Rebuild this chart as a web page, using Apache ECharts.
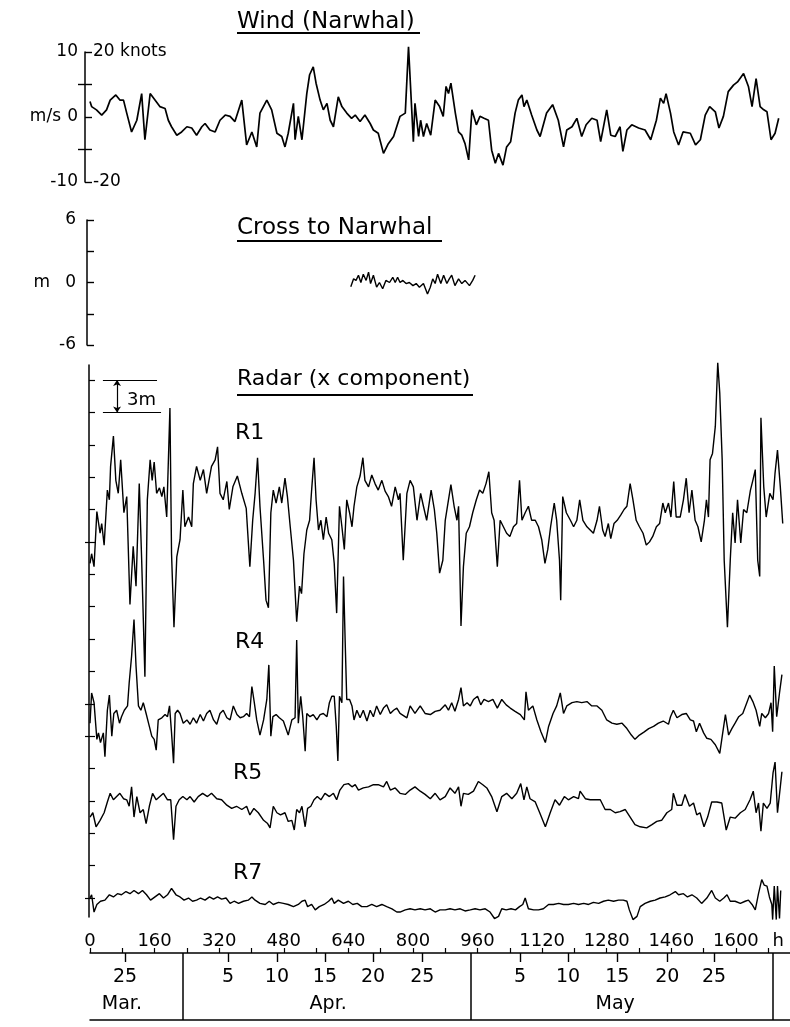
<!DOCTYPE html>
<html><head><meta charset="utf-8">
<script src="https://cdn.jsdelivr.net/npm/echarts@6/dist/echarts.min.js"></script>
<style>html,body{margin:0;padding:0;background:#fff}#c{width:790px;height:1027px}</style>
</head><body><div id="c"></div>
<script>
// ---- data: [hour, value] ----
const WIND = [[0,2.4],[4,1.6],[16,1.1],[29,0.3],[41,1.1],[50,2.6],[64,3.4],[74,2.6],[83,2.6],[91,0.6],[103,-2.3],[116,-0.5],[128,3.6],[136,-3.5],[149,3.6],[161,2.6],[173,1.6],[186,1.3],[194,-0.5],[202,-1.5],[215,-2.8],[227,-2.3],[240,-1.5],[252,-1.7],[264,-2.8],[277,-1.5],[285,-1.0],[297,-2.0],[310,-2.3],[322,-0.5],[335,0.3],[347,0.1],[359,-0.7],[376,2.6],[388,-4.3],[401,-2.3],[413,-4.6],[421,0.6],[438,2.6],[450,1.1],[463,-2.5],[475,-3.0],[483,-4.6],[491,-2.5],[504,2.1],[508,-3.5],[516,0.1],[525,-3.5],[537,3.6],[544,6.5],[553,7.7],[560,5.2],[570,2.6],[578,1.1],[587,2.1],[595,-0.5],[603,-1.5],[615,3.1],[624,1.6],[636,0.6],[648,-0.2],[657,0.3],[669,-0.7],[681,0.3],[694,-1.0],[702,-2.0],[714,-2.5],[727,-5.6],[739,-4.1],[752,-3.0],[768,0.1],[781,0.6],[789,10.8],[801,-3.8],[805,2.1],[814,-3.0],[819,-0.5],[826,-3.0],[834,-1.0],[844,-2.8],[855,2.6],[866,1.6],[875,0.1],[882,4.7],[888,3.6],[894,5.2],[905,0.6],[913,-2.3],[921,-2.8],[929,-4.1],[938,-6.6],[946,1.1],[957,-1.2],[966,0.1],[976,-0.2],[987,-0.5],[995,-5.1],[1004,-7.1],[1012,-5.6],[1023,-7.4],[1032,-4.6],[1042,-3.8],[1053,0.6],[1061,2.6],[1070,3.4],[1075,1.6],[1082,2.6],[1094,0.3],[1107,-2.0],[1115,-3.0],[1131,0.6],[1146,1.9],[1160,-0.5],[1173,-4.6],[1181,-2.0],[1194,-1.5],[1206,-0.2],[1218,-3.0],[1229,-1.2],[1243,-0.2],[1256,-0.5],[1265,-3.8],[1280,1.1],[1290,-2.8],[1301,-3.0],[1313,-1.5],[1320,-5.3],[1330,-2.0],[1342,-1.2],[1359,-1.7],[1375,-2.0],[1389,-3.5],[1403,-0.5],[1413,2.9],[1421,2.1],[1427,3.6],[1438,0.6],[1446,-2.3],[1458,-4.3],[1469,-2.3],[1487,-2.5],[1500,-4.3],[1512,-3.5],[1524,0.3],[1535,1.6],[1549,0.8],[1558,-1.7],[1569,0.1],[1581,3.9],[1594,4.9],[1604,5.4],[1619,6.7],[1631,4.7],[1640,1.6],[1650,5.9],[1660,1.6],[1669,1.1],[1677,0.8],[1687,-3.5],[1697,-2.5],[1706,-0.2]];

const CROSS = [[646,-0.4],[653,0.35],[659,0.2],[665,0.7],[671,0.0],[677,0.8],[684,0.2],[690,1.0],[695,-0.1],[702,0.7],[710,-0.45],[717,0.0],[725,-0.6],[733,0.2],[742,0.0],[750,0.5],[756,0.0],[762,0.5],[768,0.0],[775,0.2],[783,-0.1],[791,0.0],[800,-0.3],[808,-0.1],[816,-0.45],[826,-0.1],[836,-1.1],[843,-0.45],[849,0.35],[855,-0.1],[861,0.8],[869,-0.1],[876,0.7],[884,-0.1],[890,0.35],[896,0.7],[904,-0.3],[913,0.35],[921,-0.1],[929,0.2],[940,-0.3],[948,0.2],[954,0.7]];

const R1 = [[0,-2.0],[4,-1.1],[10,-2.3],[17,2.8],[25,0.8],[29,1.7],[35,-0.3],[43,4.8],[48,3.9],[51,7.0],[58,9.8],[64,5.7],[70,4.5],[76,7.6],[84,2.7],[91,4.2],[99,-5.8],[107,-0.4],[114,-4.1],[122,5.4],[128,-1.7],[136,-12.5],[142,3.9],[149,7.6],[154,5.7],[159,7.4],[165,4.5],[172,5.0],[178,4.2],[183,5.1],[190,2.3],[198,12.4],[202,-1.1],[208,-7.9],[215,-1.4],[223,0.2],[230,4.8],[235,1.4],[244,2.3],[252,1.4],[256,5.4],[264,7.0],[273,5.7],[281,6.7],[289,4.5],[301,7.0],[310,7.6],[316,8.8],[322,4.5],[330,3.9],[339,5.6],[345,3.0],[354,5.1],[365,6.1],[376,4.5],[387,3.1],[396,-2.3],[403,2.0],[409,4.5],[415,7.8],[421,3.3],[430,-1.7],[436,-5.4],[442,-6.1],[448,2.7],[454,4.8],[461,3.6],[469,5.1],[475,3.6],[483,5.9],[489,4.2],[496,1.4],[504,-1.7],[512,-7.4],[519,-4.1],[524,-4.8],[530,-1.1],[537,1.1],[544,2.0],[549,4.8],[555,7.8],[560,3.9],[566,1.1],[572,2.0],[578,0.2],[585,2.3],[591,0.8],[599,0.2],[605,-2.0],[611,-6.6],[618,3.3],[624,1.4],[630,-0.7],[636,3.9],[643,2.7],[649,1.4],[654,3.3],[661,5.1],[669,6.1],[676,7.8],[681,5.7],[690,5.1],[698,6.2],[706,5.4],[714,4.8],[723,5.7],[731,4.7],[739,4.2],[747,3.3],[756,5.1],[764,3.9],[768,4.5],[776,-1.7],[785,4.5],[793,5.7],[801,5.1],[810,2.0],[819,4.5],[826,3.3],[834,2.0],[845,4.8],[853,3.0],[859,0.8],[866,-2.9],[874,-1.7],[880,2.0],[888,3.9],[894,5.3],[902,3.3],[909,2.0],[913,3.3],[919,-7.8],[925,-2.3],[932,0.8],[940,1.4],[948,2.7],[957,3.9],[965,4.8],[973,4.5],[981,5.4],[988,6.5],[995,2.7],[1001,2.0],[1009,-2.3],[1016,2.0],[1024,1.4],[1032,0.8],[1040,0.5],[1049,1.4],[1057,1.7],[1064,5.7],[1070,2.0],[1078,2.7],[1086,3.3],[1094,2.0],[1103,2.0],[1111,1.4],[1119,0.2],[1127,-2.0],[1134,-0.7],[1141,1.4],[1150,3.6],[1156,2.0],[1163,-1.7],[1166,-5.4],[1171,4.2],[1180,2.7],[1190,2.0],[1198,1.4],[1206,2.0],[1213,3.9],[1221,2.0],[1231,1.4],[1239,1.1],[1247,0.8],[1256,2.0],[1262,3.3],[1270,1.1],[1276,0.5],[1284,1.7],[1290,0.3],[1298,1.7],[1306,2.0],[1315,2.5],[1323,3.0],[1330,3.3],[1338,5.4],[1345,3.9],[1353,2.0],[1361,1.4],[1370,0.8],[1378,-0.3],[1386,0.0],[1394,0.5],[1403,1.4],[1411,1.7],[1419,3.6],[1425,2.7],[1433,3.6],[1439,2.3],[1446,5.6],[1452,2.3],[1462,2.3],[1470,3.9],[1477,5.9],[1484,2.7],[1491,4.8],[1499,2.0],[1506,1.4],[1514,0.0],[1522,2.0],[1527,3.9],[1532,2.3],[1536,7.6],[1542,8.2],[1549,10.7],[1555,16.6],[1560,13.8],[1566,7.6],[1571,-1.7],[1579,-7.9],[1586,-1.7],[1592,2.7],[1598,-0.1],[1604,3.9],[1612,-0.1],[1619,3.0],[1627,2.7],[1636,4.8],[1642,5.7],[1648,6.7],[1654,-1.7],[1659,-3.2],[1662,11.5],[1669,5.1],[1675,2.3],[1684,4.5],[1692,3.9],[1697,6.4],[1703,8.5],[1710,5.1],[1716,1.7]];

const R4 = [[0,-1.8],[4,1.0],[10,0.1],[17,-3.3],[21,-2.7],[26,-3.6],[33,-2.7],[37,-4.9],[43,-0.6],[48,0.8],[54,-3.0],[59,-0.9],[66,-0.6],[73,-1.8],[78,-1.2],[85,-0.6],[93,-0.2],[97,1.9],[103,4.4],[109,7.8],[114,3.5],[120,-0.2],[126,-0.6],[132,0.1],[139,-0.9],[147,-2.1],[153,-3.0],[159,-3.3],[164,-4.3],[169,-1.5],[178,-1.3],[186,-1.0],[192,-1.2],[197,-0.2],[202,-2.7],[207,-5.5],[211,-0.9],[217,-0.6],[223,-0.9],[231,-1.8],[240,-1.5],[248,-1.9],[256,-1.3],[264,-1.8],[273,-1.0],[281,-1.6],[289,-0.9],[297,-0.6],[306,-1.5],[314,-1.9],[322,-0.9],[330,-0.6],[339,-1.3],[347,-1.5],[355,-0.2],[364,-1.0],[372,-1.3],[380,-1.2],[388,-0.9],[395,-1.2],[401,1.6],[407,0.1],[413,-1.5],[421,-2.9],[430,-1.5],[438,0.4],[443,3.6],[448,-3.0],[453,-1.2],[461,-1.0],[469,-1.3],[479,-1.6],[491,-2.9],[500,-1.5],[508,-1.3],[512,5.9],[516,-1.8],[522,0.7],[527,-1.2],[533,-4.4],[537,-0.9],[545,-1.2],[553,-1.0],[562,-1.5],[570,-1.0],[578,-0.9],[587,-1.2],[593,0.1],[599,0.7],[605,0.7],[610,-2.1],[614,-5.3],[618,0.7],[624,0.1],[628,11.8],[632,5.9],[636,0.4],[643,0.4],[649,-0.2],[654,-1.5],[661,-0.6],[669,-1.3],[677,-0.6],[686,-1.6],[694,-0.6],[702,-1.2],[710,-0.2],[719,-1.0],[727,-0.4],[735,-0.1],[744,-0.9],[752,-0.6],[760,-0.4],[768,-0.9],[785,-1.3],[793,-0.2],[805,-0.9],[818,-0.2],[830,-0.9],[843,-1.0],[855,-0.7],[867,-0.6],[880,-0.1],[888,-0.6],[896,0.1],[904,-0.7],[913,0.4],[919,1.5],[925,-0.2],[934,0.1],[942,-0.2],[950,0.4],[960,0.7],[968,-0.1],[976,0.4],[987,0.2],[998,0.4],[1009,-0.4],[1020,0.4],[1031,-0.1],[1041,-0.4],[1053,-0.7],[1066,-1.0],[1076,-1.5],[1080,1.1],[1086,-0.6],[1097,-0.2],[1107,-1.5],[1117,-2.6],[1128,-3.6],[1136,-2.1],[1147,-0.9],[1156,-0.2],[1165,1.0],[1173,-0.9],[1181,-0.2],[1194,0.1],[1206,0.2],[1218,0.1],[1231,0.2],[1243,-0.2],[1256,-0.2],[1268,-0.6],[1280,-1.5],[1293,-1.8],[1305,-1.9],[1318,-1.8],[1330,-2.3],[1341,-2.9],[1350,-3.3],[1361,-2.9],[1373,-2.6],[1384,-2.3],[1396,-2.1],[1408,-1.8],[1420,-1.6],[1433,-1.9],[1438,-1.2],[1445,-0.6],[1454,-1.3],[1466,-1.0],[1477,-0.9],[1487,-1.5],[1495,-1.6],[1502,-2.6],[1510,-1.8],[1520,-2.7],[1528,-3.2],[1538,-3.3],[1549,-3.8],[1560,-4.6],[1565,-3.3],[1574,-1.0],[1582,-2.9],[1590,-2.3],[1598,-1.8],[1607,-1.2],[1617,-0.9],[1627,0.1],[1634,0.8],[1642,0.2],[1650,-0.6],[1659,-2.1],[1664,-0.9],[1673,-1.3],[1681,-0.9],[1687,0.1],[1691,-2.6],[1695,3.5],[1701,-1.2],[1708,1.0],[1714,2.7]];

const R5 = [[0,-1.5],[7,-1.1],[15,-2.4],[25,-1.8],[35,-1.1],[43,-0.1],[50,0.7],[58,0.1],[66,0.4],[74,0.7],[83,0.2],[91,0.1],[97,-0.5],[103,1.3],[109,-1.5],[116,0.4],[124,-1.1],[132,-0.8],[139,-2.1],[147,-0.5],[155,0.7],[164,0.1],[173,0.4],[182,0.7],[192,0.1],[200,0.1],[207,-3.6],[213,-0.5],[221,0.1],[230,0.4],[240,0.1],[248,0.4],[258,-0.1],[268,0.4],[279,0.7],[291,0.4],[301,0.7],[314,0.2],[326,0.1],[339,-0.4],[351,-0.7],[363,-0.5],[376,-0.8],[388,-0.5],[396,-1.3],[406,-0.7],[417,-1.1],[430,-1.8],[440,-2.1],[446,-2.5],[454,-0.5],[463,-1.1],[472,-1.3],[483,-1.1],[491,-1.9],[500,-1.8],[506,-2.7],[512,-0.8],[519,-1.1],[525,-0.5],[533,-2.4],[539,-0.7],[547,-0.5],[555,0.1],[563,0.4],[572,0.1],[582,0.7],[593,0.4],[603,0.7],[611,0.1],[619,1.0],[629,1.5],[640,1.6],[649,1.3],[657,1.5],[665,1.0],[677,1.2],[690,1.3],[702,1.5],[714,1.5],[727,1.3],[735,1.8],[744,1.0],[756,1.2],[768,0.7],[781,0.6],[793,1.0],[805,1.3],[818,0.9],[830,0.6],[843,0.2],[855,0.7],[867,0.1],[880,0.4],[892,1.2],[904,0.7],[913,1.3],[919,-0.5],[925,0.7],[937,0.6],[950,0.9],[962,1.8],[973,1.5],[983,1.2],[995,0.4],[1008,-1.0],[1020,0.4],[1032,0.7],[1045,0.2],[1057,0.7],[1067,1.6],[1075,0.1],[1082,1.3],[1090,0.2],[1103,-0.1],[1113,-1.0],[1128,-2.4],[1140,-1.1],[1152,0.1],[1163,-0.4],[1175,0.4],[1185,0.1],[1198,0.4],[1210,0.2],[1214,0.9],[1227,0.2],[1239,0.1],[1251,0.1],[1264,0.1],[1276,-0.8],[1289,-0.8],[1301,-1.1],[1313,-1.0],[1326,-0.8],[1338,-1.5],[1350,-2.2],[1363,-2.4],[1379,-2.5],[1392,-2.2],[1404,-1.9],[1416,-1.8],[1429,-1.1],[1441,-0.8],[1445,0.7],[1454,-0.4],[1466,-0.4],[1474,0.6],[1485,-0.5],[1495,-0.2],[1503,-1.3],[1511,-1.1],[1521,-2.4],[1530,-1.5],[1540,-0.1],[1553,-0.1],[1565,-0.2],[1576,-2.7],[1586,-1.5],[1598,-1.6],[1611,-1.1],[1623,-0.8],[1635,0.1],[1643,0.9],[1650,-1.1],[1656,-0.2],[1662,-2.8],[1668,-0.2],[1677,-0.7],[1685,-0.2],[1692,2.6],[1697,3.6],[1703,-1.1],[1710,1.3],[1714,2.7]];

const R7 = [[0,0],[4,0.3],[10,-1.3],[17,-0.6],[26,-0.3],[37,-0.2],[48,0.3],[58,0.1],[68,0.4],[78,0.3],[89,0.6],[99,0.4],[109,0.7],[120,0.4],[130,0.7],[140,0.3],[150,-0.2],[161,0.1],[172,0.4],[182,0.0],[192,0.3],[202,0.9],[213,0.3],[223,0.1],[233,-0.2],[244,0.0],[254,-0.3],[264,-0.2],[274,0.0],[285,-0.2],[296,0.1],[306,-0.1],[316,0.1],[326,-0.1],[337,0.0],[347,-0.5],[357,-0.3],[368,-0.5],[380,-0.3],[392,-0.2],[401,0.1],[409,-0.2],[421,-0.5],[434,-0.6],[444,-0.3],[454,-0.6],[467,-0.4],[479,-0.5],[491,-0.6],[504,-0.8],[516,-0.6],[525,-0.3],[533,-0.2],[539,-0.8],[549,-0.6],[558,-1.1],[568,-0.8],[580,-0.6],[591,-0.3],[599,0.0],[605,-0.5],[615,-0.2],[628,-0.5],[640,-0.3],[651,-0.6],[662,-0.5],[673,-0.8],[686,-0.8],[698,-0.6],[710,-0.8],[723,-0.6],[735,-0.8],[748,-1.0],[760,-1.3],[768,-1.3],[781,-1.1],[793,-1.0],[805,-1.1],[818,-1.0],[830,-1.1],[843,-1.0],[855,-1.3],[867,-1.1],[880,-1.1],[892,-1.0],[904,-1.1],[917,-1.0],[929,-1.2],[942,-1.1],[954,-1.0],[966,-1.1],[979,-1.0],[991,-1.3],[1002,-1.9],[1012,-1.7],[1020,-1.0],[1031,-1.1],[1043,-1.0],[1054,-1.1],[1064,-0.8],[1072,-0.6],[1078,0.0],[1086,-1.0],[1099,-1.1],[1111,-1.1],[1123,-1.0],[1136,-0.6],[1148,-0.6],[1161,-0.5],[1173,-0.6],[1185,-0.6],[1198,-0.5],[1210,-0.6],[1223,-0.5],[1235,-0.6],[1247,-0.4],[1260,-0.5],[1272,-0.3],[1284,-0.2],[1297,-0.3],[1309,-0.2],[1321,-0.2],[1330,-0.3],[1336,-1.1],[1345,-2.0],[1355,-1.7],[1363,-0.8],[1375,-0.5],[1388,-0.3],[1400,-0.2],[1412,0.0],[1425,0.1],[1437,0.3],[1450,0.6],[1458,0.3],[1470,0.4],[1480,0.1],[1491,0.3],[1503,0.0],[1515,-0.5],[1528,0.0],[1540,0.7],[1549,0.0],[1560,-0.3],[1570,0.0],[1578,0.3],[1586,-0.3],[1598,-0.3],[1611,-0.5],[1623,-0.3],[1631,-0.2],[1640,-0.6],[1648,-1.1],[1656,0.4],[1664,1.7],[1670,1.2],[1677,1.1],[1683,0.1],[1689,-0.6],[1691,-2.0],[1695,1.1],[1700,-2.0],[1703,1.1],[1708,-1.9],[1711,0.7]];

// vertical offsets (m) of the stacked radar traces
const RADAR_NAMES = ['R1','R4','R5','R7'];
const RADAR_OFFSETS = [33, 18, 9, 0];

// ---- axes / tick labels ----
const HOUR_TICKS = [0,80,160,240,320,400,480,560,640,720,800,880,960,1040,1120,1200,1280,1360,1440,1520,1600,1680];
const HOUR_LABEL_VALUES = [0,160,320,480,640,800,960,1120,1280,1440,1600,1705];
const HOUR_LABELS = ['0','160','320','480','640','800','960','1120','1280','1460','1600','h'];
const DATE_HOURS = [87,342,463,582,701,823,1065,1184,1306,1430,1546];
const DATE_LABELS = ['25','5','10','15','20','25','5','10','15','20','25'];
const MONTH_HOURS = [79,590,1301];
const MONTH_LABELS = ['Mar.','Apr.','May'];
const MONTH_BOUNDS = [230,944,1692];
const WIND_TICKS = [-10,-5,0,5,10];
const WIND_LABEL_VALUES = [-10,0,10];
const KNOT_LABEL_VALUES = [-10,10];
const KNOT_LABELS = ['-20','20 knots'];
const CROSS_TICKS = [-6,-3,0,3,6];
const CROSS_LABEL_VALUES = [-6,0,6];
const RADAR_TICKS = [0,3,6,9,12,15,18,21,24,27,30,33,36,39,42,45,48];
const RADAR_BASE_TICKS = [0,15,18,33];

const FONT = '"DejaVu Sans", "Liberation Sans", sans-serif';
const BLACK = '#000';
const HMAX = 1734;

const chart = echarts.init(document.getElementById('c'), null, {renderer: 'canvas'});

const hiddenX = (g) => ({type:'value', gridIndex:g, min:0, max:HMAX, show:false, axisLine:{onZero:false}});
const axLine = {show:true, onZero:false, lineStyle:{color:BLACK, width:1.5}};
const noLine = {show:false, onZero:false};
const noSplit = {show:false};

const radarSeries = RADAR_NAMES.map((n, i) => ({
  name: n, type:'line', xAxisIndex:2, yAxisIndex:3,
  data: [R1, R4, R5, R7][i].map(p => [p[0], p[1] + RADAR_OFFSETS[i]]),
  showSymbol:false, clip:false, silent:true,
  lineStyle:{color:BLACK, width:1.4}
}));

const option = {
  animation:false,
  backgroundColor:'#fff',
  textStyle:{fontFamily:FONT, color:BLACK},
  grid:[
    {left:90, right:0, top:52, height:130},
    {left:90, right:0, top:220, height:125},
    {left:90, right:0, top:365, height:552},
    {left:90, right:0, top:953, height:67},
    {left:90, right:0, top:953, height:67}
  ],
  xAxis:[
    hiddenX(0), hiddenX(1), hiddenX(2),
    {type:'value', gridIndex:3, position:'top', min:0, max:HMAX,
     axisLine:axLine, splitLine:noSplit,
     axisTick:{show:true, customValues:HOUR_TICKS, length:5, inside:false, lineStyle:{color:BLACK, width:1.2}},
     axisLabel:{show:true, customValues:HOUR_LABEL_VALUES, margin:3, fontSize:18, color:BLACK, fontFamily:FONT,
       formatter:(v)=>{const i=HOUR_LABEL_VALUES.indexOf(v); return i<0?'':HOUR_LABELS[i];}}},
    {type:'value', gridIndex:3, position:'bottom', min:0, max:HMAX,
     axisLine:axLine, splitLine:noSplit, axisTick:{show:false},
     axisLabel:{show:true, inside:true, customValues:MONTH_HOURS, margin:6, fontSize:19, color:BLACK, fontFamily:FONT,
       formatter:(v)=>{const i=MONTH_HOURS.indexOf(v); return i<0?'':MONTH_LABELS[i];}}},
    {type:'value', gridIndex:4, position:'top', min:0, max:HMAX,
     axisLine:noLine, splitLine:noSplit,
     axisTick:{show:true, inside:true, customValues:DATE_HOURS, length:9, lineStyle:{color:BLACK, width:1.4}},
     axisLabel:{show:true, inside:true, customValues:DATE_HOURS, margin:15, fontSize:19, color:BLACK, fontFamily:FONT,
       formatter:(v)=>{const i=DATE_HOURS.indexOf(v); return i<0?'':DATE_LABELS[i];}}}
  ],
  yAxis:[
    {type:'value', gridIndex:0, min:-10, max:10, position:'left', offset:5,
     axisLine:axLine, splitLine:noSplit,
     axisTick:{show:true, inside:true, customValues:WIND_TICKS, length:7, lineStyle:{color:BLACK, width:1.4}},
     axisLabel:{show:true, customValues:WIND_LABEL_VALUES, margin:7, fontSize:17, color:BLACK, fontFamily:FONT},
     name:'m/s', nameLocation:'middle', nameRotate:0, nameGap:24, nameMoveOverlap:false,
     nameTextStyle:{fontSize:17, color:BLACK, fontFamily:FONT}},
    {type:'value', gridIndex:0, min:-10, max:10, position:'left', offset:5,
     axisLine:noLine, splitLine:noSplit,
     axisTick:{show:true, inside:false, customValues:[-5,5], length:7, lineStyle:{color:BLACK, width:1.4}},
     axisLabel:{show:true, inside:true, customValues:KNOT_LABEL_VALUES, margin:8, fontSize:17, color:BLACK, fontFamily:FONT,
       formatter:(v)=>{const i=KNOT_LABEL_VALUES.indexOf(v); return i<0?'':KNOT_LABELS[i];}}},
    {type:'value', gridIndex:1, min:-6, max:6, position:'left', offset:3,
     axisLine:axLine, splitLine:noSplit,
     axisTick:{show:true, inside:true, customValues:CROSS_TICKS, length:7, lineStyle:{color:BLACK, width:1.4}},
     axisLabel:{show:true, customValues:CROSS_LABEL_VALUES, margin:11, fontSize:17, color:BLACK, fontFamily:FONT},
     name:'m', nameLocation:'middle', nameRotate:0, nameGap:37, nameMoveOverlap:false,
     nameTextStyle:{fontSize:17, color:BLACK, fontFamily:FONT}},
    {type:'value', gridIndex:2, min:-1.76, max:49.39, position:'left', offset:1,
     axisLine:axLine, splitLine:noSplit,
     axisTick:{show:true, inside:true, customValues:RADAR_TICKS, length:6, lineStyle:{color:BLACK, width:1.2}},
     axisLabel:{show:false}},
    {type:'value', gridIndex:2, min:-1.76, max:49.39, position:'left', offset:1,
     axisLine:noLine, splitLine:noSplit,
     axisTick:{show:true, inside:false, customValues:RADAR_BASE_TICKS, length:4, lineStyle:{color:BLACK, width:1.2}},
     axisLabel:{show:false}},
    {type:'value', gridIndex:3, min:1, max:2, show:false},
    {type:'value', gridIndex:4, min:1, max:2, show:false}
  ],
  series:[
    {name:'Wind', type:'line', xAxisIndex:0, yAxisIndex:0, data:WIND, showSymbol:false, clip:false, silent:true,
     lineStyle:{color:BLACK, width:1.7}},
    {name:'Cross', type:'line', xAxisIndex:1, yAxisIndex:2, data:CROSS, showSymbol:false, clip:false, silent:true,
     lineStyle:{color:BLACK, width:1.4}},
    ...radarSeries,
    {name:'scale', type:'line', xAxisIndex:2, yAxisIndex:3, data:[], silent:true,
     markLine:{silent:true, symbol:['none','none'], label:{show:false}, animation:false,
       lineStyle:{color:BLACK, width:1.2, type:'solid'},
       data:[
         [{coord:[32,48]},{coord:[166,48]}],
         [{coord:[32,45]},{coord:[176,45]}],
         [{coord:[67,45], symbol:'arrow', symbolSize:6},{coord:[67,48], symbol:'arrow', symbolSize:6}]
       ]}},
    {name:'months', type:'line', xAxisIndex:3, yAxisIndex:5, data:[], silent:true,
     markLine:{silent:true, symbol:['none','none'], label:{show:false}, animation:false,
       lineStyle:{color:BLACK, width:1.5, type:'solid'},
       data: MONTH_BOUNDS.map(h => ({xAxis:h}))}}
  ],
  graphic:[
    {type:'text', x:237, y:22, style:{text:'Wind (Narwhal)', font:'23px '+FONT, fill:BLACK, align:'left', verticalAlign:'middle'}},
    {type:'line', shape:{x1:237, y1:33, x2:420, y2:33}, style:{stroke:BLACK, lineWidth:2}},
    {type:'text', x:237, y:228, style:{text:'Cross to Narwhal', font:'23px '+FONT, fill:BLACK, align:'left', verticalAlign:'middle'}},
    {type:'line', shape:{x1:237, y1:241, x2:442, y2:241}, style:{stroke:BLACK, lineWidth:2}},
    {type:'text', x:237, y:379, style:{text:'Radar (x component)', font:'22px '+FONT, fill:BLACK, align:'left', verticalAlign:'middle'}},
    {type:'line', shape:{x1:237, y1:395, x2:473, y2:395}, style:{stroke:BLACK, lineWidth:2}},
    {type:'text', x:127, y:400, style:{text:'3m', font:'18px '+FONT, fill:BLACK, align:'left', verticalAlign:'middle'}},
    {type:'text', x:235, y:433, style:{text:'R1', font:'22px '+FONT, fill:BLACK, align:'left', verticalAlign:'middle'}},
    {type:'text', x:235, y:642, style:{text:'R4', font:'22px '+FONT, fill:BLACK, align:'left', verticalAlign:'middle'}},
    {type:'text', x:233, y:773, style:{text:'R5', font:'22px '+FONT, fill:BLACK, align:'left', verticalAlign:'middle'}},
    {type:'text', x:233, y:873, style:{text:'R7', font:'22px '+FONT, fill:BLACK, align:'left', verticalAlign:'middle'}}
  ]
};
chart.setOption(option);
</script>
</body></html>
